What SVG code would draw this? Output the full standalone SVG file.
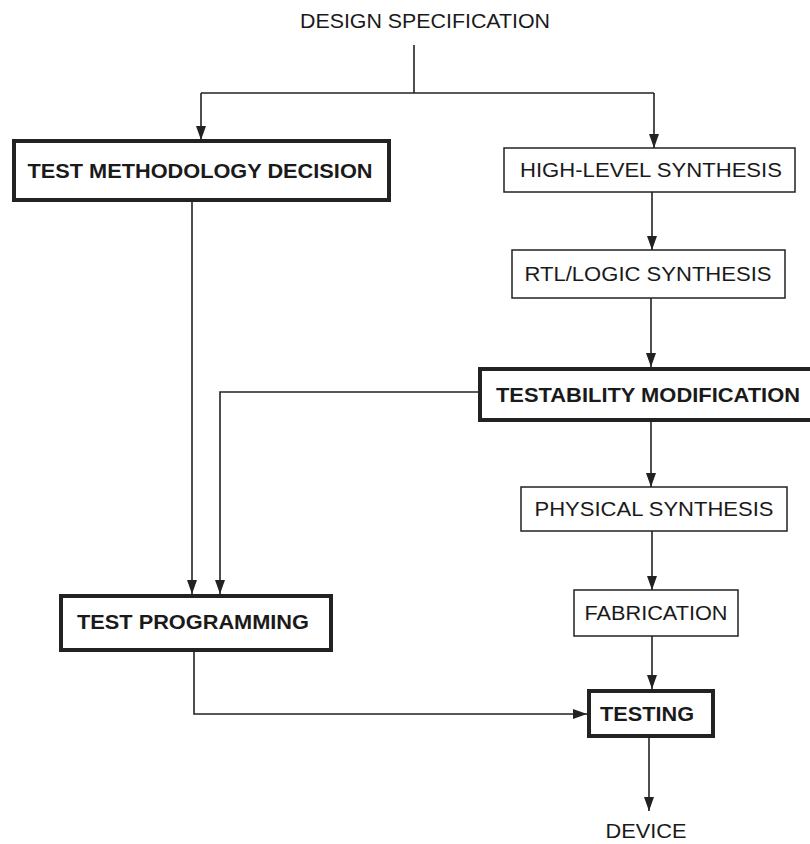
<svg xmlns="http://www.w3.org/2000/svg" width="810" height="844" viewBox="0 0 810 844">
  <defs>
    <marker id="arrow" viewBox="0 0 14 10" refX="14" refY="5" markerWidth="14" markerHeight="10" markerUnits="userSpaceOnUse" orient="auto">
      <path d="M0,0 L14,5 L0,10 Z" fill="#222"/>
    </marker>
    <style>
      .box { fill: #fff; stroke: #222; stroke-width: 1.5; }
      .bold-box { fill: #fff; stroke: #222; stroke-width: 4; }
      .lbl { font-family: "Liberation Sans", Arial, sans-serif; font-size: 20px; fill: #1a1a1a; text-anchor: middle; }
      .blbl { font-family: "Liberation Sans", Arial, sans-serif; font-size: 20px; font-weight: bold; fill: #1a1a1a; text-anchor: middle; }
      .wire { fill: none; stroke: #222; stroke-width: 1.6; }
    </style>
  </defs>
  <rect width="810" height="844" fill="#fff"/>

  <!-- connectors -->
  <g id="connectors">
    <path class="wire" d="M414,45 V93"/>
    <path class="wire" d="M201,93 H654"/>
    <path class="wire" d="M201,93 V140" marker-end="url(#arrow)"/>
    <path class="wire" d="M654,93 V148" marker-end="url(#arrow)"/>
    <path class="wire" d="M652,192 V250" marker-end="url(#arrow)"/>
    <path class="wire" d="M651,298 V367" marker-end="url(#arrow)"/>
    <path class="wire" d="M478,392 H220 V594" marker-end="url(#arrow)"/>
    <path class="wire" d="M192,202 V594" marker-end="url(#arrow)"/>
    <path class="wire" d="M651,422 V487" marker-end="url(#arrow)"/>
    <path class="wire" d="M652,531 V590" marker-end="url(#arrow)"/>
    <path class="wire" d="M652,636 V689" marker-end="url(#arrow)"/>
    <path class="wire" d="M194,652 V714 H587" marker-end="url(#arrow)"/>
    <path class="wire" d="M649,737 V811" marker-end="url(#arrow)"/>
  </g>

  <g id="design-spec">
    <text class="lbl" x="425" y="28" textLength="250" lengthAdjust="spacingAndGlyphs">DESIGN SPECIFICATION</text>
  </g>

  <g id="test-methodology-decision">
    <rect class="bold-box" x="14" y="141" width="375" height="59"/>
    <text class="blbl" x="200" y="178" textLength="345" lengthAdjust="spacingAndGlyphs">TEST METHODOLOGY DECISION</text>
  </g>

  <g id="high-level-synthesis">
    <rect class="box" x="504" y="148" width="291" height="44"/>
    <text class="lbl" x="651" y="177" textLength="262" lengthAdjust="spacingAndGlyphs">HIGH-LEVEL SYNTHESIS</text>
  </g>

  <g id="rtl-logic-synthesis">
    <rect class="box" x="512" y="250" width="273" height="48"/>
    <text class="lbl" x="648" y="281" textLength="247" lengthAdjust="spacingAndGlyphs">RTL/LOGIC SYNTHESIS</text>
  </g>

  <g id="testability-modification">
    <rect class="bold-box" x="480" y="369" width="334" height="51"/>
    <text class="blbl" x="648" y="402" textLength="304" lengthAdjust="spacingAndGlyphs" style="font-size:21px">TESTABILITY MODIFICATION</text>
  </g>

  <g id="physical-synthesis">
    <rect class="box" x="521" y="487" width="266" height="44"/>
    <text class="lbl" x="654" y="516" textLength="239" lengthAdjust="spacingAndGlyphs">PHYSICAL SYNTHESIS</text>
  </g>

  <g id="test-programming">
    <rect class="bold-box" x="61" y="596" width="270" height="54"/>
    <text class="blbl" x="193" y="629" textLength="232" lengthAdjust="spacingAndGlyphs">TEST PROGRAMMING</text>
  </g>

  <g id="fabrication">
    <rect class="box" x="574" y="590" width="164" height="46"/>
    <text class="lbl" x="656" y="620" textLength="143" lengthAdjust="spacingAndGlyphs">FABRICATION</text>
  </g>

  <g id="testing">
    <rect class="bold-box" x="589" y="691" width="124" height="45"/>
    <text class="blbl" x="647" y="721" textLength="94" lengthAdjust="spacingAndGlyphs">TESTING</text>
  </g>

  <g id="device">
    <text class="lbl" x="646" y="838" textLength="81" lengthAdjust="spacingAndGlyphs">DEVICE</text>
  </g>
</svg>
